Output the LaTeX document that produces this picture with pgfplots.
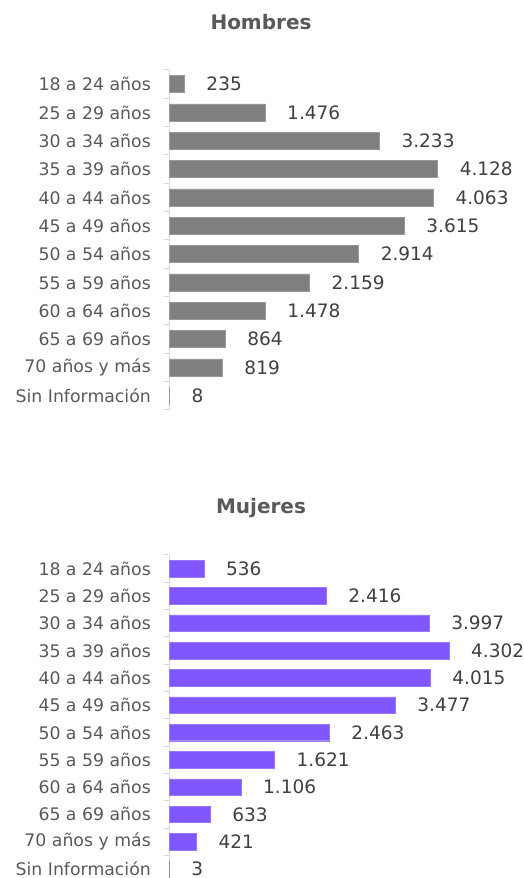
\documentclass[border=0pt]{standalone}
\usepackage{fontspec}
\setmainfont{DejaVu Sans}
\usepackage{pgfplots}
\usepackage{pgfplotstable}
\pgfplotsset{compat=1.18}
\definecolor{barGray}{HTML}{7F7F7F}
\definecolor{barPurple}{HTML}{7F56FF}
\definecolor{txtDark}{HTML}{404040}
\definecolor{txtMid}{HTML}{595959}
\definecolor{axGray}{HTML}{D9D9D9}

\pgfplotstableread{
idx val lab
0 235 235
1 1476 1.476
2 3233 3.233
3 4128 4.128
4 4063 4.063
5 3615 3.615
6 2914 2.914
7 2159 2.159
8 1478 1.478
9 864 864
10 819 819
11 8 8
}\hombres
\pgfplotstableread{
idx val lab
0 536 536
1 2416 2.416
2 3997 3.997
3 4302 4.302
4 4015 4.015
5 3477 3.477
6 2463 2.463
7 1621 1.621
8 1106 1.106
9 633 633
10 421 421
11 3 3
}\mujeres

\pgfplotsset{
  agebar/.style={
    scale only axis,
    anchor=north west,
    width=326pt,
    xmin=0, xmax=5010,
    ymin=-0.5, ymax=11.5,
    y dir=reverse,
    axis x line=none,
    axis y line*=left,
    y axis line style={draw=axGray, line width=1pt, -},
    ytick={0,...,11},
    yticklabels={18 a 24 años,25 a 29 años,30 a 34 años,35 a 39 años,40 a 44 años,45 a 49 años,50 a 54 años,55 a 59 años,60 a 64 años,65 a 69 años,70 años y más,Sin Información},
    major tick length=0pt,
    minor ytick={-0.5,0.5,...,11.5},
    minor tick length=5pt,
    tick align=outside,
    minor tick style={draw=axGray, line width=1pt},
    yticklabel style={font=\fontsize{17.3}{20}\selectfont, text=txtMid, inner sep=0pt, xshift=-18pt},
    xbar,
    nodes near coords,
    point meta=explicit symbolic,
    every node near coord/.append style={font=\fontsize{18.5}{22}\selectfont, text=txtDark, anchor=west, inner sep=0pt, xshift=22pt},
    clip=false,
  }
}

\begin{document}
\begin{tikzpicture}
\useasboundingbox (0,0) rectangle (523pt,878pt);
\node[font=\bfseries\fontsize{20}{24}\selectfont, text=txtMid] at (261pt,856pt) {Hombres};
\begin{axis}[agebar, at={(169pt,808pt)}, height=340pt]
\addplot[xbar, bar width=17pt, fill=barGray, draw=barGray!80!white] table[x=val, y=idx, meta=lab] {\hombres};
\end{axis}
\node[font=\bfseries\fontsize{20}{24}\selectfont, text=txtMid] at (261pt,370pt) {Mujeres};
\begin{axis}[agebar, at={(169pt,323pt)}, height=327.6pt]
\addplot[xbar, bar width=16.5pt, fill=barPurple, draw=barPurple!80!white] table[x=val, y=idx, meta=lab] {\mujeres};
\end{axis}
\end{tikzpicture}
\end{document}
